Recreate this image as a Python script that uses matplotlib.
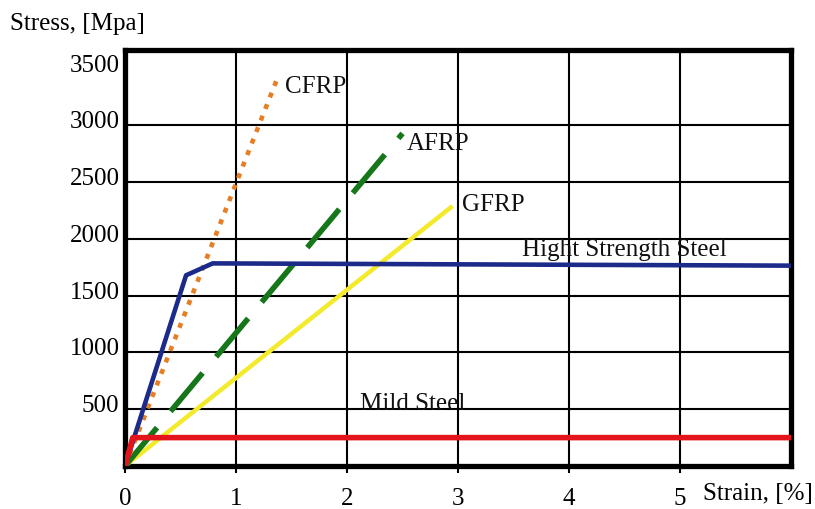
import matplotlib
matplotlib.use("Agg")
import matplotlib.pyplot as plt
from matplotlib.transforms import ScaledTranslation

# ---- data ----
strain_cfrp = [0, 1.37]
stress_cfrp = [0, 3410]
strain_afrp = [0, 2.50]
stress_afrp = [0, 2930]
strain_gfrp = [0, 2.95]
stress_gfrp = [0, 2290]
strain_hss = [0, 0.55, 0.79, 6.0]
stress_hss = [0, 1680, 1785, 1765]
strain_mild = [0, 0.07, 6.0]
stress_mild = [0, 250, 250]

x_ticks = [0, 1, 2, 3, 4, 5]
y_ticks = [500, 1000, 1500, 2000, 2500, 3000, 3500]
x_grid = [1, 2, 3, 4, 5]
y_grid = [500, 1000, 1500, 2000, 2500, 3000]

labels = ["CFRP", "AFRP", "GFRP", "Hight Strength Steel", "Mild Steel"]
label_pos = [(1.44, 3340), (2.54, 2840), (3.04, 2300), (3.58, 1905), (2.12, 545)]

plt.rcParams['font.family'] = ['Liberation Serif', 'DejaVu Serif']
FS = 18

fig = plt.figure(figsize=(8.15, 5.09), dpi=100)
ax = fig.add_axes([0.1534, 0.0845, 0.8172, 0.8173])
ax.set_xlim(0, 6)
ax.set_ylim(0, 3665)

for xv in x_grid:
    ax.axvline(xv, color='black', lw=1.5, zorder=1)
for yv in y_grid:
    ax.axhline(yv, color='black', lw=1.5, zorder=1)

ax.plot(strain_gfrp, stress_gfrp, color='#F2EA2A', lw=3.2, solid_capstyle='butt', zorder=3)
l_afrp, = ax.plot(strain_afrp, stress_afrp, color='#16761A', lw=4.0, dash_capstyle='butt', zorder=3)
l_afrp.set_dashes((9, 3.8))
l_cfrp, = ax.plot(strain_cfrp, stress_cfrp, color='#E57E25', lw=3.3, dash_capstyle='butt', zorder=3)
l_cfrp.set_dashes((1.1, 1.6))
ax.plot(strain_hss, stress_hss, color='#1C2A8A', lw=3.3, solid_joinstyle='round', zorder=4)
ax.plot(strain_mild, stress_mild, color='#E3141B', lw=4.0, solid_joinstyle='round', zorder=5)

for txt, (xv, yv) in zip(labels, label_pos):
    ax.text(xv, yv, txt, fontsize=FS, va='center', ha='left', color='#111111', zorder=6)

for s in ax.spines.values():
    s.set_linewidth(3.8)
    s.set_color('black')

ax.set_xticks(x_ticks)
ax.set_xticklabels([str(v) for v in x_ticks])
ax.set_yticks(y_ticks)
ax.set_yticklabels([str(v) for v in y_ticks])
ax.tick_params(axis='x', length=5, width=1.5, pad=11, labelsize=FS)
ax.tick_params(axis='y', length=0, pad=4, labelsize=FS)
for lab in ax.get_yticklabels():
    lab.set_transform(lab.get_transform() + ScaledTranslation(0, 4/72, fig.dpi_scale_trans))

fig.text(10/815, 1 - 24/509, "Stress, [Mpa]", fontsize=FS, va='center', ha='left')
fig.text(703/815, 1 - 494/509, "Strain, [%]", fontsize=FS, va='center', ha='left')

fig.savefig("out.png", dpi=100)
